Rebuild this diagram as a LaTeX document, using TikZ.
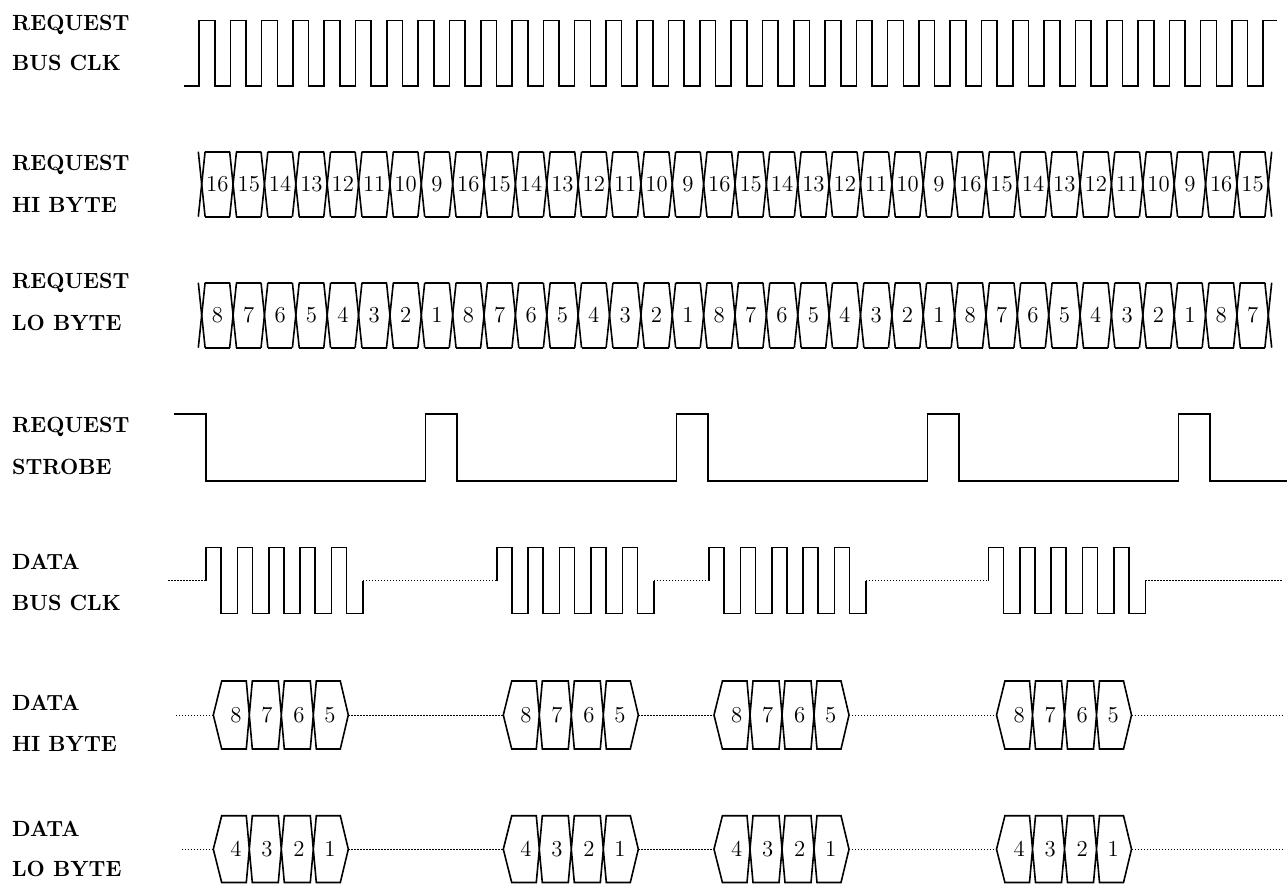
\documentclass[tikz,border=0pt]{standalone}
\usepackage{fontspec}
\setmainfont{Latin Modern Roman}
\begin{document}
\begin{tikzpicture}[x=0.5pt,y=-0.5pt,
  wave/.style={line width=0.8pt, line join=miter},
  idle/.style={line width=0.45pt, dash pattern=on 0.7pt off 0.8pt},
  lbl/.style={font=\fontsize{11}{12}\selectfont\bfseries, inner sep=0pt, anchor=base west},
  num/.style={font=\fontsize{11.4}{12}\selectfont, inner sep=0pt}]
\useasboundingbox (0,0) rectangle (1288,884);
\def\cw{31.37}
% ---------- labels ----------
\node[lbl] (l1a) at (11.7,30)    {\scalebox{0.96}[1]{REQUEST}};
\node[lbl] (l1b) at (11.7,70)    {\scalebox{0.96}[1]{BUS CLK}};
\node[lbl] (l2a) at (11.7,170)   {\scalebox{0.96}[1]{REQUEST}};
\node[lbl] (l2b) at (11.7,212.7) {\scalebox{0.96}[1]{HI BYTE}};
\node[lbl] (l3a) at (11.7,288.3) {\scalebox{0.96}[1]{REQUEST}};
\node[lbl] (l3b) at (11.7,330.7) {\scalebox{0.96}[1]{LO BYTE}};
\node[lbl] (l4a) at (11.7,432.3) {\scalebox{0.96}[1]{REQUEST}};
\node[lbl] (l4b) at (11.7,474)   {\scalebox{0.96}[1]{STROBE}};
\node[lbl] (l5a) at (11.7,569.3) {\scalebox{0.96}[1]{DATA}};
\node[lbl] (l5b) at (11.7,610)   {\scalebox{0.96}[1]{BUS CLK}};
\node[lbl] (l6a) at (11.7,710)   {\scalebox{0.96}[1]{DATA}};
\node[lbl] (l6b) at (11.7,751.7) {\scalebox{0.96}[1]{HI BYTE}};
\node[lbl] (l7a) at (11.7,836.7) {\scalebox{0.96}[1]{DATA}};
\node[lbl] (l7b) at (11.7,876.7) {\scalebox{0.96}[1]{LO BYTE}};
% ---------- request bus clk ----------
\draw[wave] (184,86) \foreach \k in {0,...,33} { -- ({199+\k*31.3},86) -- ({199+\k*31.3},20.5) -- ({214.7+\k*31.3},20.5) -- ({214.7+\k*31.3},86) } -- (1263.2,86) -- (1263.2,20.5) -- (1277,20.5);
% ---------- request hi / lo byte ----------
\foreach \T/\Bt/\M in {151.7/216.7/184.2, 282.7/347.7/315.2} {
  \foreach \k in {0,...,34} {
    \draw[wave] ({201.7+\k*\cw-3.4},\T) -- ({201.7+\k*\cw+3.4},\Bt);
    \draw[wave] ({201.7+\k*\cw+3.4},\T) -- ({201.7+\k*\cw-3.4},\Bt);
  }
  \foreach \k in {0,...,33} {
    \draw[wave] ({201.7+\k*\cw+3.4},\T) -- ({201.7+(\k+1)*\cw-3.4},\T);
    \draw[wave] ({201.7+\k*\cw+3.4},\Bt) -- ({201.7+(\k+1)*\cw-3.4},\Bt);
  }
}
\foreach \i in {0,...,33} {
  \pgfmathtruncatemacro\hv{16-mod(\i,8)}
  \pgfmathtruncatemacro\lv{8-mod(\i,8)}
  \node[num] (rh\i) at ({201.7+(\i+0.5)*\cw},184.2) {\hv};
  \node[num] (rl\i) at ({201.7+(\i+0.5)*\cw},315.2) {\lv};
}
% ---------- request strobe ----------
\draw[wave] (174,414) -- (206,414) -- (206,480.7) \foreach \m in {0,...,3} { -- ({206+(8*\m+7)*\cw},480.7) -- ({206+(8*\m+7)*\cw},414) -- ({206+(8*\m+8)*\cw},414) -- ({206+(8*\m+8)*\cw},480.7) } -- (1287,480.7);
% ---------- data bus clk ----------
\foreach \B in {206,496.7,709,988.3} {
  \draw[wave] (\B,580.7) -- (\B,547.3) \foreach \j in {0,...,3} { -- ({\B+\j*31.4+15},547.3) -- ({\B+\j*31.4+15},613.3) -- ({\B+(\j+1)*31.4},613.3) -- ({\B+(\j+1)*31.4},547.3) } -- ({\B+4*31.4+15},547.3) -- ({\B+4*31.4+15},613.3) -- ({\B+157},613.3) -- ({\B+157},580.7);
}
\draw[idle] (168.3,580.7) -- (206,580.7);
\draw[idle] (363,580.7) -- (496.7,580.7);
\draw[idle] (653.7,580.7) -- (709,580.7);
\draw[idle] (866,580.7) -- (988.3,580.7);
\draw[idle] (1145.3,580.7) -- (1282.7,580.7);
% ---------- data hi / lo byte ----------
\foreach \L [count=\n] in {213.3,503.3,714,996.5} {
  \foreach \T/\Bt/\M/\r/\a/\b/\c/\d in {681/749/715/h/8/7/6/5, 815.7/882.5/849.2/l/4/3/2/1} {
    \draw[wave] ({\L+8.4},\T) -- (\L,\M) -- ({\L+8.4},\Bt) -- ({\L+36-3},\Bt) -- ({\L+36+3},\T) -- ({\L+68-3},\T) -- ({\L+68+3},\Bt) -- ({\L+100-3},\Bt) -- ({\L+100+3},\T) -- ({\L+127},\T) -- ({\L+135},\M) -- ({\L+127},\Bt) -- ({\L+100+3},\Bt) -- ({\L+100-3},\T) -- ({\L+68+3},\T) -- ({\L+68-3},\Bt) -- ({\L+36+3},\Bt) -- ({\L+36-3},\T) -- cycle;
    \node[num] (d\r\n a) at ({\L+22.7},\M) {\a};
    \node[num] (d\r\n b) at ({\L+53.7},\M) {\b};
    \node[num] (d\r\n c) at ({\L+85.7},\M) {\c};
    \node[num] (d\r\n d) at ({\L+116.7},\M) {\d};
  }
}
\draw[idle] (176,715) -- (213.3,715);
\draw[idle] (348.3,715) -- (503.3,715);
\draw[idle] (638.3,715) -- (714,715);
\draw[idle] (849,715) -- (996.5,715);
\draw[idle] (1131.5,715) -- (1282.7,715);
\draw[idle] (181.7,849.2) -- (213.3,849.2);
\draw[idle] (348.3,849.2) -- (503.3,849.2);
\draw[idle] (638.3,849.2) -- (714,849.2);
\draw[idle] (849,849.2) -- (996.5,849.2);
\draw[idle] (1131.5,849.2) -- (1282.7,849.2);
\end{tikzpicture}
\end{document}
